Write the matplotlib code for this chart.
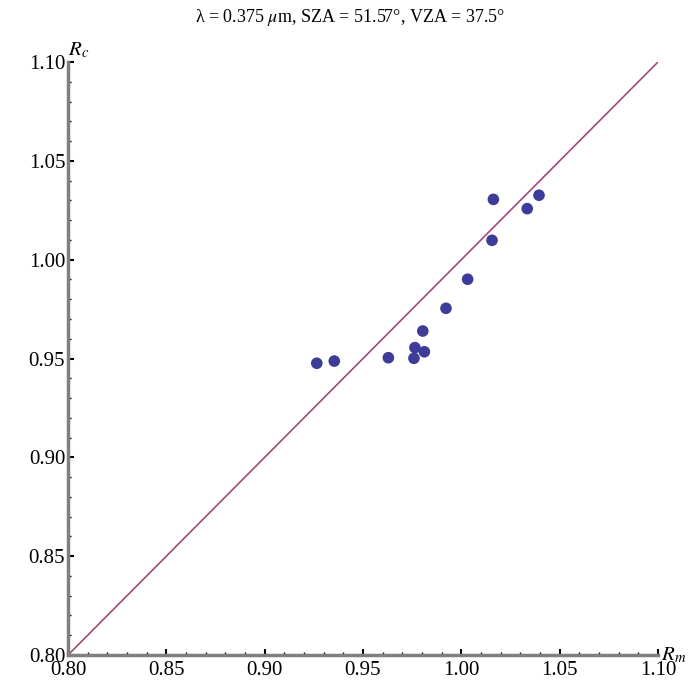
import matplotlib
matplotlib.use("Agg")
import matplotlib.pyplot as plt
import numpy as np
from matplotlib.ticker import MultipleLocator, FormatStrFormatter

plt.rcParams['font.family'] = ['Liberation Serif', 'DejaVu Serif']
plt.rcParams['mathtext.fontset'] = 'stix'

r_m = [0.9265, 0.9354, 0.9629, 0.9759, 0.9764, 0.9812, 0.9804, 0.9922, 1.0032, 1.0156, 1.0163, 1.0335, 1.0395]
r_c = [0.9476, 0.9487, 0.9504, 0.9501, 0.9555, 0.9534, 0.9639, 0.9754, 0.9901, 1.0098, 1.0305, 1.0258, 1.0326]
line_x = [0.80, 1.10]
line_y = [0.80, 1.10]
x_ticks = [0.80, 0.85, 0.90, 0.95, 1.00, 1.05, 1.10]
y_ticks = [0.80, 0.85, 0.90, 0.95, 1.00, 1.05, 1.10]

fig = plt.figure(figsize=(7, 6.85), dpi=100)
ax = fig.add_axes([68/700, 30/685, 590/700, 593/685])
ax.plot(line_x, line_y, color='#A04A78', lw=1.2, zorder=2)
ax.scatter(r_m, r_c, s=70, color='#3D3D99', edgecolors='none', zorder=3)

ax.set_xlim(0.80, 1.10)
ax.set_ylim(0.80, 1.10)
for s in ['top', 'right']:
    ax.spines[s].set_visible(False)
for s in ['left', 'bottom']:
    ax.spines[s].set_color('#808080')
    ax.spines[s].set_linewidth(2.5)
ax.set_xticks(x_ticks)
ax.set_yticks(y_ticks)
ax.xaxis.set_major_formatter(FormatStrFormatter('%.2f'))
ax.yaxis.set_major_formatter(FormatStrFormatter('%.2f'))
ax.xaxis.set_minor_locator(MultipleLocator(0.01))
ax.yaxis.set_minor_locator(MultipleLocator(0.01))
ax.tick_params(which='major', direction='in', length=4, width=1.5, color='black', labelsize=15)
ax.tick_params(axis='x', which='major', pad=4)
ax.tick_params(axis='y', which='major', pad=2)
ax.tick_params(which='minor', direction='in', length=2.5, width=1.0, color='black')

ax.text(1.1015, 0.800, r'$R_m$', fontsize=15, ha='left', va='center', clip_on=False)
ax.text(0.8, 1.101, r'$R_c$', fontsize=15, ha='left', va='bottom', clip_on=False)
fig.text(0.5, 0.975, 'λ = 0.375 $\\mu$m, SZA = 51.57°, VZA = 37.5°', ha='center', va='center', fontsize=13)

fig.savefig('out.png', dpi=100)
